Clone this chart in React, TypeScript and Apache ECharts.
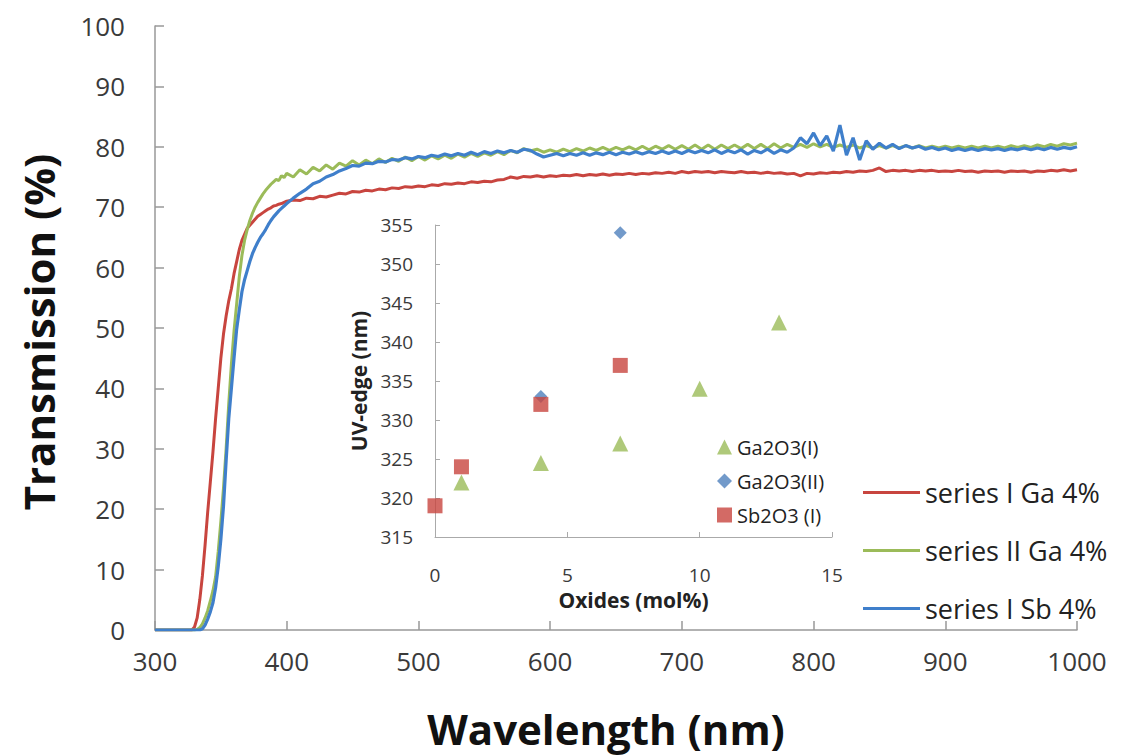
import React, { useEffect, useRef } from "react";
import * as echarts from "echarts";

// Wavelength grid (nm)
const wavelengths = [
  300, 310, 320,
  326, 328, 330, 332, 334, 336, 338, 340, 342, 344, 346, 348, 350, 352, 354, 356, 358, 360,
  362, 364, 366, 368, 370, 372, 374, 376, 378, 380, 382, 384, 386, 388, 390, 392, 394, 396, 398,
  400, 405, 410, 415, 420, 425, 430, 435, 440, 445,
  450, 455, 460, 465, 470, 475, 480, 485, 490, 495,
  500, 505, 510, 515, 520, 525, 530, 535, 540, 545,
  550, 555, 560, 565, 570, 575, 580, 585, 590, 595,
  600, 605, 610, 615, 620, 625, 630, 635, 640, 645,
  650, 655, 660, 665, 670, 675, 680, 685, 690, 695,
  700, 705, 710, 715, 720, 725, 730, 735, 740, 745,
  750, 755, 760, 765, 770, 775, 780, 785, 790, 795,
  800, 805, 810, 815, 820, 825, 830, 835, 840, 845,
  850, 855, 860, 865, 870, 875, 880, 885, 890, 895,
  900, 905, 910, 915, 920, 925, 930, 935, 940, 945,
  950, 955, 960, 965, 970, 975, 980, 985, 990, 995,
  1000,
];

// series I Ga 4%
const seriesIGa = [
  0, 0, 0,
  0, 0, 0.5, 2, 5, 9, 14, 19.5, 24.5, 29.5, 35, 40, 45, 49, 52, 54.5, 56.5, 59,
  61, 63, 64.5, 65.5, 66.5, 67, 67.5, 68, 68.5, 68.8, 69.1, 69.4, 69.7, 69.9, 70.2, 70.3, 70.5, 70.6, 70.8,
  71.0, 71.2, 71.1, 71.5, 71.4, 71.8, 71.7, 72.0, 72.3, 72.2,
  72.6, 72.5, 72.8, 72.7, 73.0, 72.9, 73.2, 73.1, 73.4, 73.3,
  73.5, 73.4, 73.7, 73.6, 73.9, 73.8, 74.0, 73.9, 74.2, 74.1,
  74.3, 74.2, 74.5, 74.6, 75.0, 74.8, 75.1, 75.0, 75.2, 75.0,
  75.2, 75.1, 75.3, 75.2, 75.4, 75.2, 75.4, 75.3, 75.5, 75.3,
  75.5, 75.4, 75.6, 75.4, 75.6, 75.5, 75.7, 75.6, 75.8, 75.6,
  75.9, 75.7, 75.9, 75.8, 75.9, 75.7, 75.9, 75.8, 75.7, 75.9,
  75.7, 75.8, 75.6, 75.8, 75.6, 75.7, 75.5, 75.6, 75.2, 75.6,
  75.5, 75.7, 75.6, 75.8, 75.7, 75.9, 75.8, 76.0, 75.9, 76.1,
  76.5, 75.9, 76.1, 76.0, 76.1, 75.9, 76.1, 76.0, 76.1, 75.9,
  76.0, 75.9, 76.1, 75.9, 76.0, 75.8, 76.0, 75.9, 76.0, 75.8,
  76.0, 75.9, 76.0, 75.8, 76.0, 75.9, 76.1, 76.0, 76.2, 76.0,
  76.2,
];

// series II Ga 4%
const seriesIIGa = [
  0, 0, 0,
  0, 0, 0, 0.1, 0.4, 1, 2, 3.2, 4.8, 6.5, 8.8, 13, 18, 23.5, 30, 37.5, 44, 49.5,
  54, 58.5, 62, 64.5, 66.3, 67.8, 69, 70, 70.8, 71.5, 72.2, 72.8, 73.3, 73.8, 74.2, 74.6, 74.4, 75.2, 74.9,
  75.6, 75.0, 76.2, 75.5, 76.6, 76.0, 77.0, 76.3, 77.3, 76.8,
  77.7, 77.0, 77.8, 77.2, 78.0, 77.4, 78.1, 77.6, 78.3, 77.7,
  78.4, 77.8, 78.5, 78.0, 78.6, 78.1, 78.8, 78.3, 78.9, 78.4,
  79.0, 78.6, 79.2, 78.7, 79.4, 79.0, 79.7, 79.3, 79.6, 79.1,
  79.5, 79.1, 79.6, 79.2, 79.7, 79.3, 79.8, 79.4, 79.9, 79.4,
  79.9, 79.5, 80.0, 79.5, 80.1, 79.5, 80.1, 79.6, 80.2, 79.6,
  80.2, 79.6, 80.3, 79.6, 80.3, 79.6, 80.3, 79.7, 80.3, 79.7,
  80.4, 79.7, 80.4, 79.7, 80.5, 79.8, 80.4, 79.9, 80.4, 79.9,
  80.5, 80.0, 80.4, 79.9, 80.3, 79.9, 80.3, 79.8, 80.2, 79.8,
  80.2, 79.8, 80.2, 79.8, 80.2, 79.8, 80.2, 79.8, 80.1, 79.8,
  80.1, 79.8, 80.1, 79.8, 80.1, 79.8, 80.1, 79.8, 80.1, 79.8,
  80.2, 79.9, 80.2, 79.9, 80.3, 80.0, 80.4, 80.1, 80.5, 80.3,
  80.6,
];

// series I Sb 4%
const seriesISb = [
  0, 0, 0,
  0, 0, 0, 0, 0, 0.2, 0.8, 1.8, 3, 4.5, 7, 10.5, 15, 20.5, 28, 35, 40, 45,
  49.8, 53, 56, 58, 59.5, 61, 62.3, 63.3, 64.2, 65, 65.6, 66.3, 67.1, 67.8, 68.4, 68.9, 69.4, 69.8, 70.2,
  70.6, 71.5, 72.3, 73.0, 73.9, 74.3, 75.0, 75.4, 76.0, 76.4,
  76.9, 76.8, 77.3, 77.2, 77.6, 77.5, 77.9, 77.8, 78.2, 78.0,
  78.4, 78.2, 78.6, 78.4, 78.8, 78.5, 78.9, 78.6, 79.1, 78.7,
  79.2, 78.9, 79.3, 79.0, 79.4, 79.1, 79.6, 79.4, 78.8, 78.3,
  78.6, 78.9, 78.5, 78.9, 78.6, 79.0, 78.6, 79.0, 78.7, 79.1,
  78.7, 79.1, 78.8, 79.2, 78.8, 79.2, 78.9, 79.3, 78.9, 79.3,
  78.9, 79.4, 79.0, 79.4, 79.0, 79.5, 78.9, 79.4, 79.0, 79.5,
  78.8, 79.4, 79.0, 79.6, 78.9, 79.5, 79.1, 79.8, 81.5, 80.5,
  82.3, 80.2, 81.8, 79.3, 83.6, 78.6, 81.5, 77.8, 81.0, 79.6,
  80.6, 79.8, 80.4, 79.7, 80.2, 79.8, 80.1, 79.6, 79.9, 79.5,
  79.8, 79.4, 79.7, 79.4, 79.7, 79.4, 79.7, 79.5, 79.7, 79.4,
  79.7, 79.5, 79.8, 79.5, 79.8, 79.5, 79.9, 79.6, 79.9, 79.7,
  80.0,
];

// Inset: UV-edge vs oxide content
const ga2o3IOxides = [1, 4, 7, 10, 13];
const ga2o3IEdge = [322, 324.5, 327, 334, 342.5];
const ga2o3IIOxides = [4, 7];
const ga2o3IIEdge = [333, 354];
const sb2o3IOxides = [0, 1, 4, 7];
const sb2o3IEdge = [319, 324, 332, 337];

const mainXTicks = { min: 300, max: 1000, interval: 100 };
const mainYTicks = { min: 0, max: 100, interval: 10 };
const insetXTicks = { min: 0, max: 15, interval: 5 };
const insetYTicks = { min: 315, max: 355, interval: 5 };

const RED = "#C8453F";
const GREEN = "#9BBB59";
const BLUE = "#3F7FCB";
const FONT = "Open Sans";

const zip = (xs: number[], ys: number[]) => xs.map((x, i) => [x, ys[i]]);

export default function App() {
  const ref = useRef<HTMLDivElement>(null);

  useEffect(() => {
    if (!ref.current) return;
    const chart = echarts.init(ref.current, null, { renderer: "svg" });
    const axisLine = { show: true, lineStyle: { color: "#999999", width: 1.5 } };
    const insetLine = { show: true, lineStyle: { color: "#aaaaaa", width: 1 } };
    const plain = (v: number) => String(v);
    const option = {
      animation: false,
      backgroundColor: "#ffffff",
      textStyle: { fontFamily: FONT },
      grid: [
        { left: 155, right: 54, top: 26, bottom: 125, containLabel: false, outerBoundsMode: "none" },
        { left: 435, top: 225, width: 397, height: 312, containLabel: false, outerBoundsMode: "none" },
      ],
      xAxis: [
        {
          type: "value",
          gridIndex: 0,
          ...mainXTicks,
          axisLine,
          axisTick: { show: true, inside: true, length: 9, lineStyle: { color: "#999999", width: 1.5 } },
          splitLine: { show: false },
          axisLabel: { fontSize: 26, color: "#3a3a3a", margin: 18, fontFamily: FONT, formatter: plain },
        },
        {
          type: "value",
          gridIndex: 1,
          ...insetXTicks,
          axisLine: insetLine,
          axisTick: { show: true, inside: true, length: 5, lineStyle: { color: "#aaaaaa" } },
          splitLine: { show: false },
          axisLabel: { fontSize: 19, color: "#3a3a3a", margin: 28, fontFamily: FONT, formatter: plain },
          name: "Oxides (mol%)",
          nameLocation: "middle",
          nameGap: 52,
          nameTextStyle: { fontSize: 21, fontWeight: "bold", color: "#222222", fontFamily: FONT },
        },
      ],
      yAxis: [
        {
          type: "value",
          gridIndex: 0,
          ...mainYTicks,
          axisLine,
          axisTick: { show: true, inside: true, length: 9, lineStyle: { color: "#999999", width: 1.5 } },
          splitLine: { show: false },
          axisLabel: { fontSize: 26, color: "#3a3a3a", margin: 30, fontFamily: FONT, formatter: plain },
        },
        {
          type: "value",
          gridIndex: 1,
          ...insetYTicks,
          axisLine: insetLine,
          axisTick: { show: true, inside: true, length: 5, lineStyle: { color: "#aaaaaa" } },
          splitLine: { show: false },
          axisLabel: { fontSize: 19, color: "#3a3a3a", margin: 22, fontFamily: FONT, formatter: plain },
          name: "UV-edge (nm)",
          nameLocation: "middle",
          nameGap: 66,
          nameTextStyle: { fontSize: 21, fontWeight: "bold", color: "#222222", fontFamily: FONT },
        },
      ],
      legend: [
        {
          orient: "vertical",
          left: 858,
          top: 474,
          itemWidth: 57,
          itemHeight: 3,
          itemGap: 31,
          icon: "rect",
          textStyle: { fontSize: 27, color: "#222222", fontFamily: FONT },
          data: ["series I Ga 4%", "series II Ga 4%", "series I Sb 4%"],
        },
        {
          orient: "vertical",
          left: 712,
          top: 432,
          itemWidth: 15,
          itemHeight: 15,
          itemGap: 14,
          textStyle: { fontSize: 20, color: "#222222", fontFamily: FONT },
          data: [
            { name: "Ga2O3(I)", icon: "triangle" },
            { name: "Ga2O3(II)", icon: "diamond" },
            { name: "Sb2O3 (I)", icon: "rect" },
          ],
        },
      ],
      graphic: [
        {
          type: "text",
          x: 606,
          y: 728,
          style: {
            text: "Wavelength (nm)",
            fontSize: 42,
            fontWeight: "bold",
            fill: "#111111",
            fontFamily: FONT,
            align: "center",
            verticalAlign: "middle",
          },
        },
        {
          type: "text",
          x: 38,
          y: 332,
          rotation: Math.PI / 2,
          style: {
            text: "Transmission (%)",
            fontSize: 42,
            fontWeight: "bold",
            fill: "#111111",
            fontFamily: FONT,
            align: "center",
            verticalAlign: "middle",
          },
        },
      ],
      series: [
        {
          name: "series I Ga 4%",
          type: "line",
          xAxisIndex: 0,
          yAxisIndex: 0,
          data: zip(wavelengths, seriesIGa),
          showSymbol: false,
          lineStyle: { color: RED, width: 3 },
          itemStyle: { color: RED },
        },
        {
          name: "series II Ga 4%",
          type: "line",
          xAxisIndex: 0,
          yAxisIndex: 0,
          data: zip(wavelengths, seriesIIGa),
          showSymbol: false,
          lineStyle: { color: GREEN, width: 3 },
          itemStyle: { color: GREEN },
        },
        {
          name: "series I Sb 4%",
          type: "line",
          xAxisIndex: 0,
          yAxisIndex: 0,
          data: zip(wavelengths, seriesISb),
          showSymbol: false,
          lineStyle: { color: BLUE, width: 3.2 },
          itemStyle: { color: BLUE },
        },
        {
          name: "Ga2O3(I)",
          type: "scatter",
          xAxisIndex: 1,
          yAxisIndex: 1,
          symbol: "triangle",
          symbolSize: 16,
          data: zip(ga2o3IOxides, ga2o3IEdge),
          itemStyle: { color: GREEN },
        },
        {
          name: "Ga2O3(II)",
          type: "scatter",
          xAxisIndex: 1,
          yAxisIndex: 1,
          symbol: "diamond",
          symbolSize: 13,
          data: zip(ga2o3IIOxides, ga2o3IIEdge),
          itemStyle: { color: "#4F81BD" },
        },
        {
          name: "Sb2O3 (I)",
          type: "scatter",
          xAxisIndex: 1,
          yAxisIndex: 1,
          symbol: "rect",
          symbolSize: 15,
          data: zip(sb2o3IOxides, sb2o3IEdge),
          itemStyle: { color: RED },
        },
      ],
    };
    chart.setOption(option as any);
    return () => chart.dispose();
  }, []);

  return (
    <div
      ref={ref}
      style={{ position: "fixed", left: 0, top: 0, width: 1131, height: 755 }}
    />
  );
}
